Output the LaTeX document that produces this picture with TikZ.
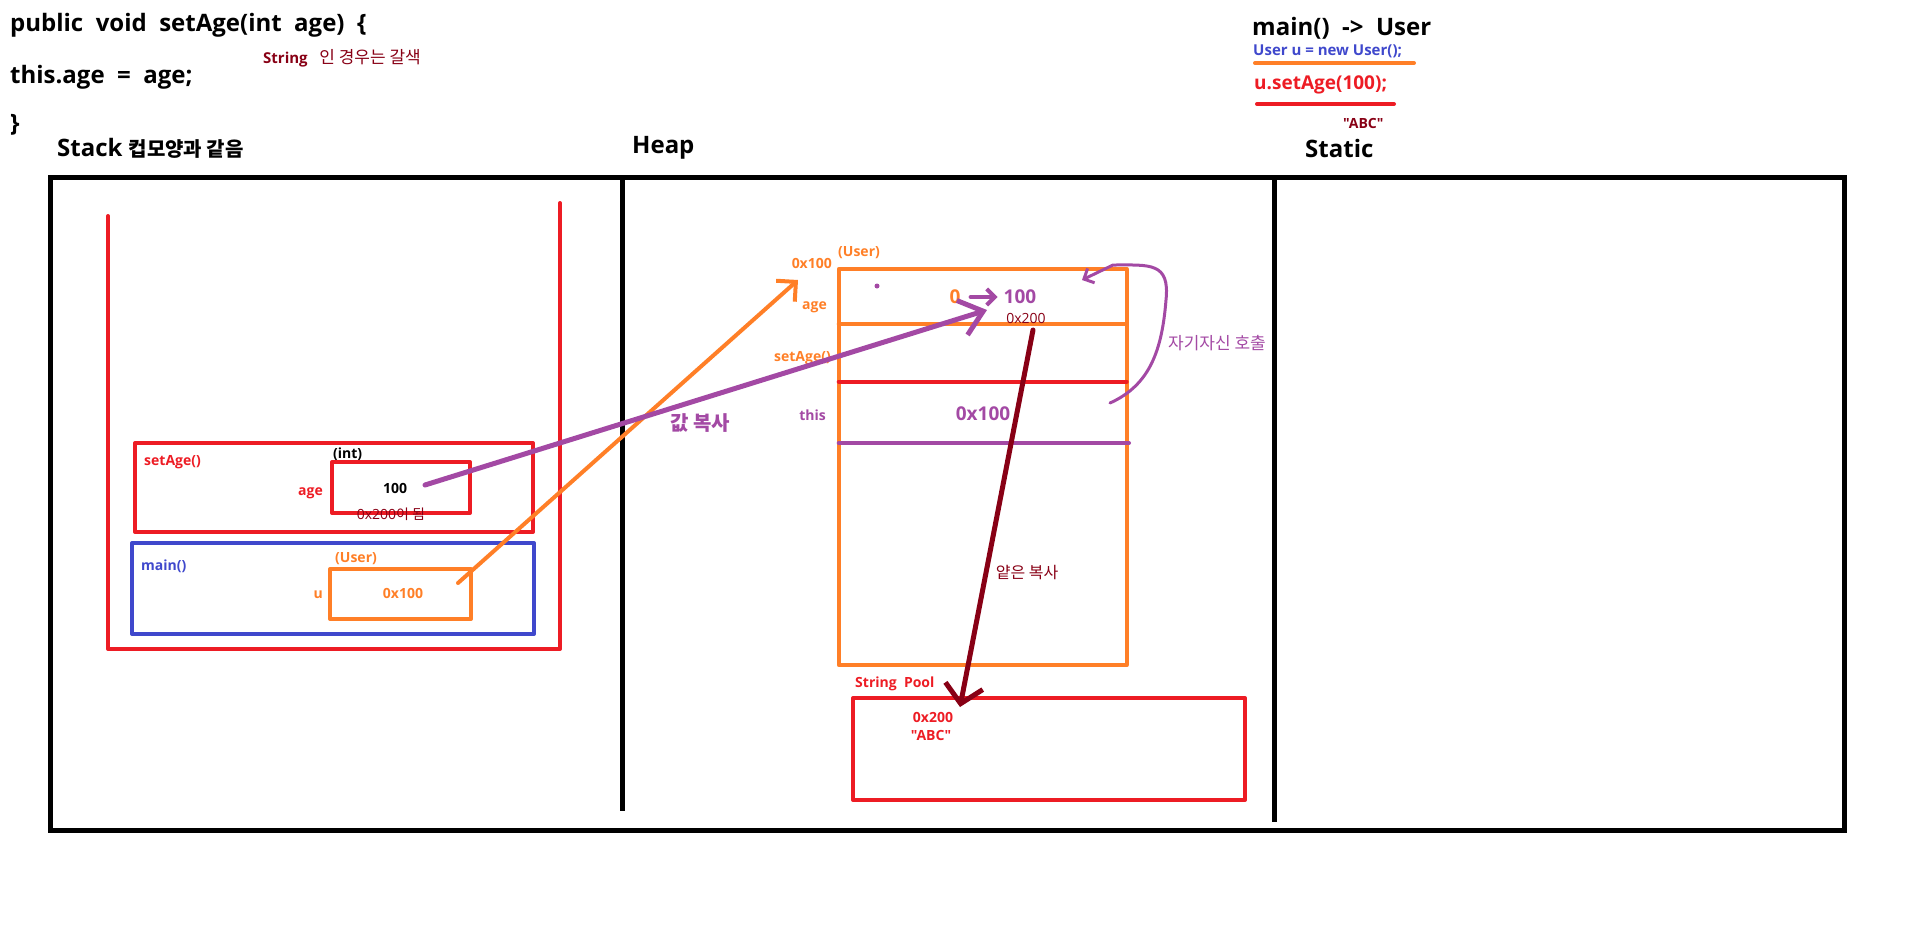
\documentclass[tikz,border=0pt]{standalone}
\usepackage{fontspec}
\setmainfont{Open Sans}[Ligatures=TeXOff]
\newfontfamily\kr{Noto Sans CJK KR}
\usetikzlibrary{arrows.meta}

\definecolor{jred}{HTML}{ED1C24}
\definecolor{jorange}{HTML}{FF7F27}
\definecolor{jblue}{HTML}{3F48CC}
\definecolor{jpurple}{HTML}{A349A4}
\definecolor{jbrown}{HTML}{880015}

\newcommand{\setfs}[1]{\fontsize{#1}{#1}\selectfont}

\tikzset{
  code/.style={font=\setfs{24}\bfseries, anchor=west, inner sep=0},
  tag/.style={font=\setfs{14}\bfseries, inner sep=0},
  hand/.style={line width=4pt, line cap=round, line join=round}
}

\begin{document}
\begin{tikzpicture}[x=1pt,y=-1pt]
\useasboundingbox (0,0) rectangle (1914,930);

% Code of setAge
\node[code] (sig) at (10,25) {public\ \ void\ \ setAge(int\ \ age)\ \ \{};
\node[code] (assign) at (10,77) {this.age\ \ =\ \ age;};
\node[code] (brace) at (10,125) {\}};
\node[anchor=west, inner sep=0, text=jbrown, font=\setfs{15}] (strnote) at (263,58) {\textbf{String}\ \ \ {\kr\setfs{17}인 경우는 갈색}};

% Calls made in main
\node[code] (mainuser) at (1252,28) {main()\ \ ->\ \ User};
\node[anchor=west, inner sep=0, text=jblue, font=\setfs{15}\bfseries] (newuser) at (1253,51) {User u = new User();};
\draw[jorange, hand] (1255,63) -- (1414,63);
\node[anchor=west, inner sep=0, text=jred, font=\setfs{19}\bfseries] (call) at (1254,85) {u.setAge(100);};
\draw[jred, hand] (1257,104) -- (1394,104);
\node[anchor=west, inner sep=0, text=jbrown, font=\setfs{14}\bfseries] (abc) at (1343,123) {\char34 ABC\char34};

% Area titles
\node[code] (stacktitle) at (57,148) {Stack {\kr\setfs{20}컵모양과 같음}};
\node[code] (heaptitle) at (632,148) {Heap};
\node[code] (statictitle) at (1305,148) {Static};

% Memory frame and dividers
\draw[line width=5pt] (50,177) rectangle (1844,830);
\draw[line width=5pt] (622,175) -- (622,811);
\draw[line width=5pt] (1274,177) -- (1274,822);

% Stack cup
\draw[jred, hand] (108,216) -- (108,649) -- (560,649) -- (560,203);

% setAge frame
\draw[jred, hand] (135,443) rectangle (533,532);
\node[anchor=west, text=jred, tag] (setagefr) at (144,462) {setAge()};
\node[anchor=west, tag] (inttype) at (333,454) {(int)};
\draw[jred, hand] (332,462) rectangle (470,513);
\node[anchor=east, text=jred, tag] (agename) at (323,493) {age};
\node[tag] (ageval) at (395,488) {100};
\node[text=jbrown, font=\setfs{14}, inner sep=0] (ageaddr) at (391,514) {0x200{\kr 이 됨}};

% main frame
\draw[jblue, hand] (132,543) rectangle (534,634);
\node[anchor=west, text=jblue, tag] (mainfr) at (141,566) {main()};
\node[anchor=west, text=jorange, tag] (usertype) at (335,559) {(User)};
\draw[jorange, hand] (330,569) rectangle (471,619);
\node[anchor=east, text=jorange, tag] (uname) at (323,595) {u};
\node[text=jorange, tag] (uval) at (403,593) {0x100};

% User object in heap
\draw[jorange, hand] (838.7,269) rectangle (1126.7,665);
\draw[jorange, hand] (838.7,324) -- (1126.7,324);
\draw[jred, hand] (838.7,381.5) -- (1126.7,381.5);
\draw[jpurple, hand] (838.7,443) -- (1129,443);
\node[anchor=east, text=jorange, tag] (objaddr) at (832,263) {0x100};
\node[anchor=west, text=jorange, tag] (objtype) at (838,253) {(User)};
\node[anchor=east, text=jorange, tag] (agefield) at (827,307) {age};
\node[anchor=east, text=jorange, tag] (setagefield) at (831,358) {setAge()};
\node[anchor=east, text=jpurple, tag] (thisfield) at (826,415) {this};
\node[text=jorange, font=\setfs{19}\bfseries, inner sep=0] (oldage) at (955,297) {0};
\node[text=jpurple, font=\setfs{19}\bfseries, inner sep=0] (newage) at (1020,297) {100};
\draw[jpurple, hand, -{Straight Barb[length=8pt,width=16pt]}] ([xshift=10pt]oldage.east) -- ([xshift=-6pt]newage.west);
\node[text=jbrown, font=\setfs{14}, inner sep=0] (fieldaddr) at (1026,318) {0x200};
\node[text=jpurple, font=\setfs{19}\bfseries, inner sep=0] (thisval) at (983,414) {0x100};
\fill[jpurple] (877,286) circle (2.5);

% String Pool
\node[anchor=west, text=jred, tag] (pooltitle) at (855,684) {String\ \ Pool};
\draw[jred, hand] (853,698) rectangle (1245,800);
\node[text=jred, tag] (pooladdr) at (933,717) {0x200};
\node[text=jred, tag] (poolstr) at (931,735) {\char34 ABC\char34};

% Reference copy
\coordinate (refsrc) at (458,583);
\coordinate (reftip) at (798,280);
\draw[jorange, hand, -{Straight Barb[length=14pt,width=28pt]}] (refsrc) -- (reftip);

% Value copy
\coordinate (valsrc) at (425,485);
\coordinate (valtip) at (987,310);
\draw[jpurple, line width=5pt, line cap=round, -{Straight Barb[length=22pt,width=36pt]}] (valsrc) -- (valtip);
\node[text=jpurple, font=\kr\setfs{20}\bfseries, inner sep=0] (valcopy) at (700,423) {값 복사};

% Shallow copy
\coordinate (strsrc) at (1033,330);
\coordinate (strtip) at (960,707);
\draw[jbrown, line width=5pt, line cap=round, -{Straight Barb[length=18pt,width=38pt]}] (strsrc) -- (strtip);
\node[text=jbrown, font=\kr\setfs{16}, inner sep=0] (shallowcopy) at (1027,572) {얕은 복사};

% Self call loop
\draw[jpurple, line width=3pt, line cap=round, -{Straight Barb[length=8pt,width=16pt]}]
  (1110,403) .. controls (1150,385) and (1162,350) .. (1166,300)
  .. controls (1170,262) and (1150,265) .. (1113,265) -- (1082,280);
\node[anchor=west, text=jpurple, font=\kr\setfs{17}, inner sep=0] (selfcall) at (1168,343) {자기자신 호출};

\end{tikzpicture}
\end{document}
